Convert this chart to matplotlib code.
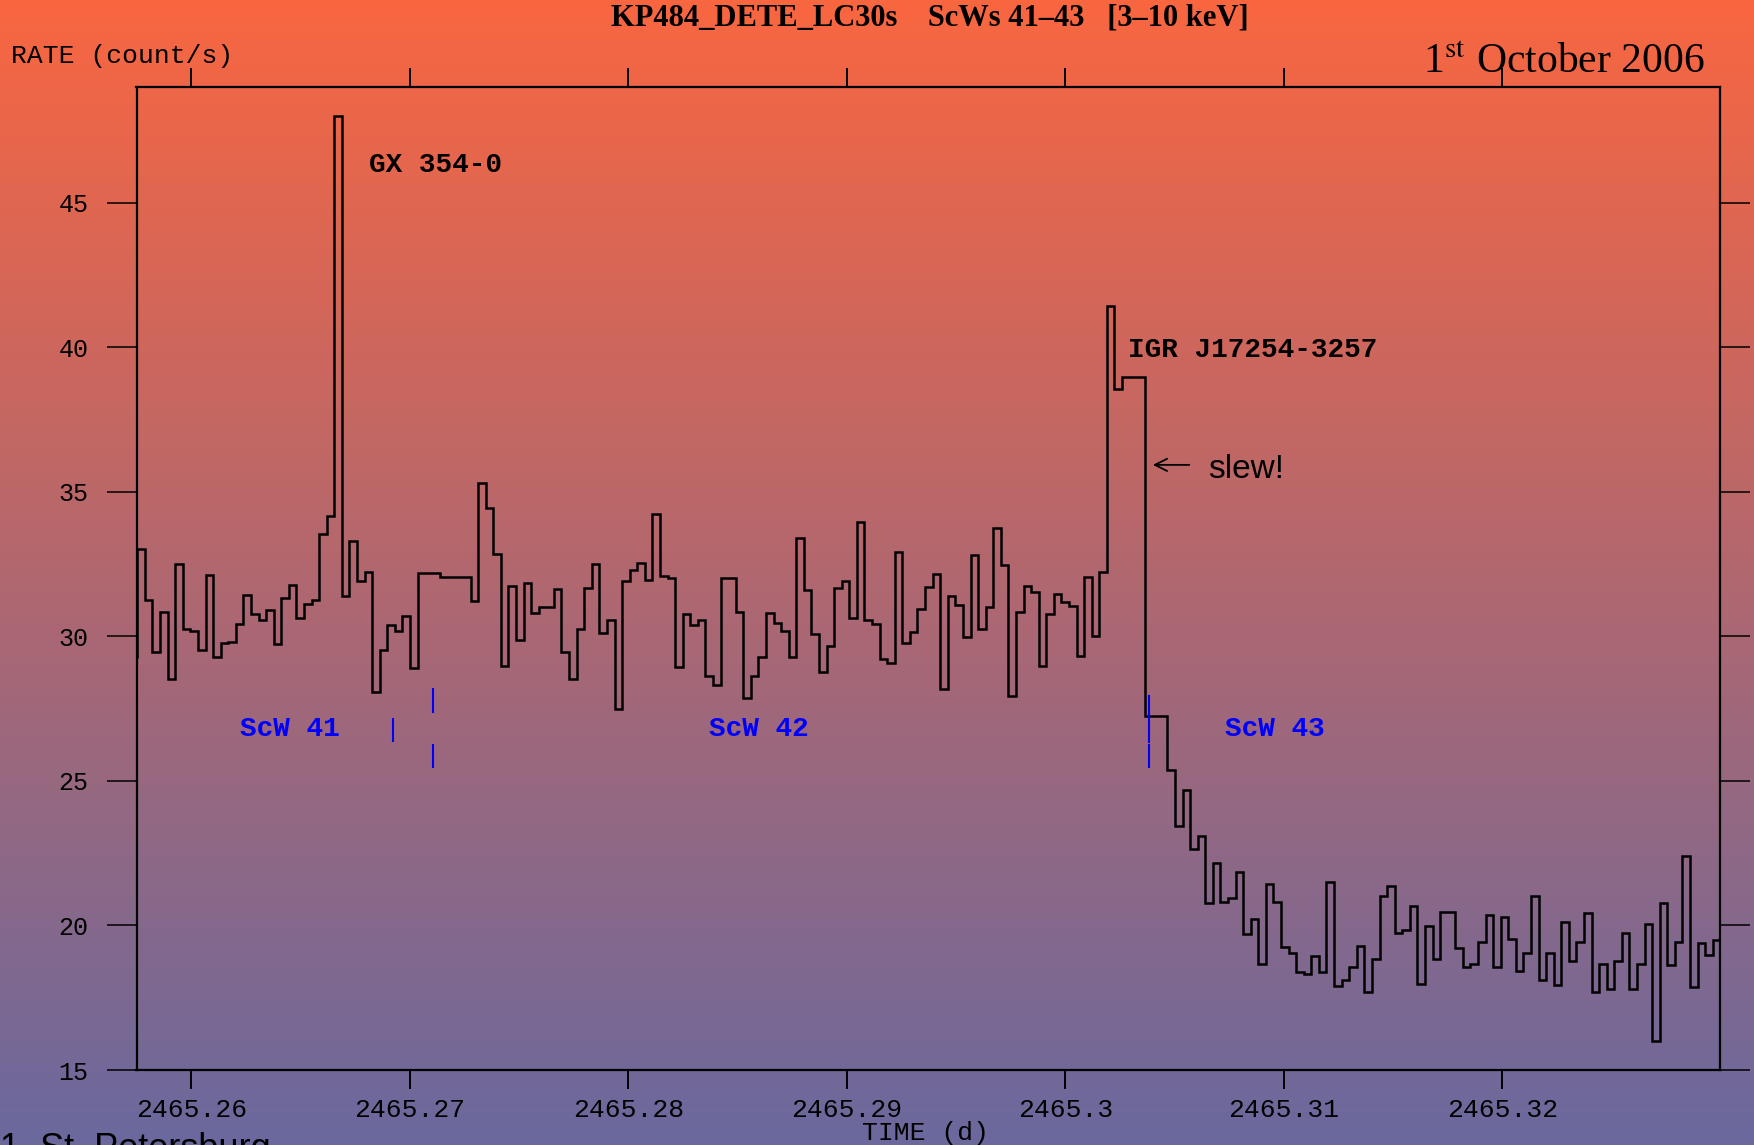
import numpy as np
import matplotlib.pyplot as plt

# KP484 detector light curve, 30 s bins (ScWs 41-43, 3-10 keV)
t_first = 2465.257184      # start of first bin (d)
bin_s = 29.95              # bin width as drawn on the time axis (s)
rate = [29.3,
        33.02, 31.24, 29.47, 30.84, 28.51, 32.51, 30.26, 30.19, 29.51, 32.13,
        29.30, 29.76, 29.80, 30.43, 31.43, 30.77, 30.57, 30.92, 29.73, 31.31,
        31.78, 30.63, 31.12, 31.24, 33.55, 34.17, 48.0, 31.38, 33.28, 31.90,
        32.23, 28.07, 29.53, 30.40, 30.20, 30.69, 28.89, 32.20, 32.20, 32.20,
        32.06, 32.06, 32.06, 32.06, 31.21, 35.30, 34.44, 32.85, 28.98, 31.75,
        29.86, 31.86, 30.81, 31.01, 31.01, 31.63, 29.45, 28.51, 30.25, 31.66,
        32.51, 30.11, 30.57, 27.48, 31.92, 32.28, 32.53, 31.96, 34.23, 32.07,
        32.01, 28.93, 30.78, 30.38, 30.55, 28.62, 28.31, 32.01, 32.01, 30.83,
        27.88, 28.62, 29.28, 30.80, 30.46, 30.17, 29.28, 33.40, 31.61, 30.09,
        28.78, 29.65, 31.66, 31.93, 30.63, 33.96, 30.57, 30.43, 29.23, 29.07,
        32.92, 29.76, 30.15, 30.95, 31.70, 32.16, 28.17, 31.38, 31.09, 29.96,
        32.82, 30.27, 31.00, 33.74, 32.47, 27.94, 30.83, 31.73, 31.52, 28.98,
        30.77, 31.47, 31.17, 31.06, 29.33, 32.05, 30.02, 32.21, 41.41, 38.55,
        38.96, 38.96, 38.96, 27.26, 27.26, 27.26, 25.36, 23.44, 24.67, 22.66,
        23.11, 20.77, 22.17, 20.82, 20.96, 21.84, 19.72, 20.22, 18.66, 21.42,
        20.80, 19.26, 19.04, 18.40, 18.31, 18.96, 18.40, 21.49, 17.92, 18.11,
        18.56, 19.30, 17.71, 18.83, 21.03, 21.37, 19.75, 19.83, 20.66, 17.99,
        19.97, 18.84, 20.47, 20.46, 19.23, 18.55, 18.67, 19.41, 20.35, 18.55,
        20.30, 19.52, 18.41, 19.03, 21.02, 18.11, 19.04, 17.93, 20.12, 18.77,
        19.42, 20.44, 17.69, 18.67, 17.79, 18.76, 19.73, 17.81, 18.66, 20.05,
        16.01, 20.78, 18.64, 19.44, 22.40, 17.87, 19.39, 18.97, 19.50, 18.40]

xticks = [2465.26, 2465.27, 2465.28, 2465.29, 2465.30, 2465.31, 2465.32]
xtick_labels = ["2465.26", "2465.27", "2465.28", "2465.29", "2465.3",
                "2465.31", "2465.32"]
yticks = [15, 20, 25, 30, 35, 40, 45]

# ScW boundary markers (x, [(y0, y1), ...])
markers = [(2465.26923, [(26.38, 27.15)]),
           (2465.27106, [(28.18, 27.39), (26.25, 25.48)]),
           (2465.30385, [(27.94, 26.35), (26.25, 25.48)])]
scw_labels = [("ScW 41", 2465.26452), ("ScW 42", 2465.28598), ("ScW 43", 2465.30959)]

edges = t_first + np.arange(len(rate) + 1) * bin_s / 86400.0

W, H = 1754, 1145
fig = plt.figure(figsize=(W / 100, H / 100), dpi=100)

# gradient background
bg = fig.add_axes([0, 0, 1, 1], zorder=-10)
top = np.array([249, 102, 64]) / 255
bot = np.array([106, 105, 158]) / 255
f = np.linspace(0, 1, 512)[:, None]
grad = top * (1 - f) + bot * f
bg.imshow(grad[:, None, :], aspect='auto', extent=[0, 1, 0, 1])
bg.axis('off')

mono = 'Liberation Mono'
ax = fig.add_axes([136.5 / W, 1 - 1070 / H, (1720 - 136.5) / W, (1070 - 87) / H])
ax.patch.set_alpha(0)
ax.stairs(rate, edges, baseline=None, color='black', lw=1.8)
ax.set_xlim(2465.257492, 2465.329963)
ax.set_ylim(15, 49.0)

ax.set_xticks(xticks, xtick_labels, fontfamily=mono, fontsize=19)
ax.set_yticks(yticks, [str(v) for v in yticks], fontfamily=mono, fontsize=18)
ax.tick_params(axis='x', direction='out', length=14, width=1.4, top=True, pad=6)
ax.tick_params(axis='y', direction='out', length=21.5, width=1.1, right=True, pad=13)
ax.minorticks_off()
for s in ax.spines.values():
    s.set_linewidth(1.6)

# annotations
ax.text(2465.26813, 46.07, "GX 354-0", fontfamily=mono, fontweight='bold',
        fontsize=20, va='baseline', ha='left')
ax.text(2465.30287, 39.67, "IGR J17254-3257", fontfamily=mono, fontweight='bold',
        fontsize=20, va='baseline', ha='left')
ax.text(2465.30653, 35.48, "slew!", fontfamily='Liberation Sans', fontsize=24,
        va='baseline', ha='left')
ax.annotate('', xy=(2465.30388, 35.93), xytext=(2465.30580, 35.93),
            arrowprops=dict(arrowstyle='->', color='black', lw=1.3, mutation_scale=22))

for lab, x in scw_labels:
    ax.text(x, 26.54, lab, color='blue', fontfamily=mono, fontweight='bold',
            fontsize=20, va='baseline', ha='center')
for x, segs in markers:
    for y0, y1 in segs:
        ax.plot([x, x], [y0, y1], color='blue', lw=1.5)

fig.text(930 / W, 1 - 26 / H, "KP484_DETE_LC30s    ScWs 41\u201343   [3\u201310 keV]",
         ha='center', va='baseline', fontfamily='Liberation Serif',
         fontweight='bold', fontsize=22)
fig.text(1705 / W, 1 - 72.7 / H, r"1$^{\mathrm{st}}$ October 2006", ha='right',
         va='baseline', fontfamily='Liberation Serif', math_fontfamily='stix',
         fontsize=30)
fig.text(11 / W, 1 - 63.3 / H, "RATE (count/s)", ha='left', va='baseline',
         fontfamily=mono, fontsize=19)
fig.text(925 / W, 1 - 1140 / H, "TIME (d)", ha='center', va='baseline',
         fontfamily=mono, fontsize=19)
fig.text(0, 1 - 1159 / H, "1  St. Petersburg", ha='left', va='baseline',
         fontfamily='Liberation Sans', fontsize=26)

fig.savefig('out.png', dpi=100)
